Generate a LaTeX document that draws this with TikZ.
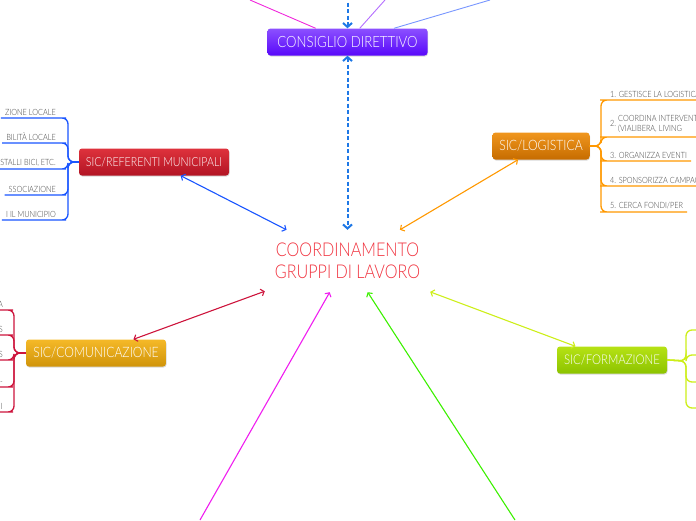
\documentclass[tikz,border=0pt]{standalone}
\usepackage{fontspec}
\setmainfont{Lato Light}[FakeStretch=0.85]
\usetikzlibrary{arrows.meta,shadows}
\definecolor{corered}{RGB}{240,50,62}
\definecolor{consA}{RGB}{140,80,255}
\definecolor{consB}{RGB}{88,8,250}
\definecolor{refA}{RGB}{222,50,60}
\definecolor{refB}{RGB}{178,20,36}
\definecolor{logA}{RGB}{240,150,30}
\definecolor{logB}{RGB}{198,108,0}
\definecolor{comA}{RGB}{245,185,40}
\definecolor{comB}{RGB}{208,148,10}
\definecolor{formA}{RGB}{182,226,20}
\definecolor{formB}{RGB}{140,195,0}
\definecolor{refline}{RGB}{25,85,255}
\definecolor{logline}{RGB}{255,152,0}
\definecolor{comline}{RGB}{205,20,60}
\definecolor{formline}{RGB}{205,238,25}
\definecolor{dotblue}{RGB}{30,120,230}
\definecolor{pinkline}{RGB}{240,30,240}
\definecolor{greenline}{RGB}{60,240,0}
\definecolor{topA}{RGB}{240,40,220}
\definecolor{topB}{RGB}{180,110,255}
\definecolor{topC}{RGB}{120,150,255}

\begin{document}
\begin{tikzpicture}
[x=1pt,y=-1pt,>={Straight Barb[length=3pt,width=7pt]},
 topic/.style={rounded corners=3pt,text=white,font=\fontsize{13}{13}\selectfont,
  minimum height=27pt,drop shadow={opacity=.3,shadow xshift=.5pt,shadow yshift=-1pt}},
 leaf/.style={font=\fontsize{8.6}{9.6}\selectfont,text=black!75,inner xsep=4pt,inner ysep=2.5pt},
 branch/.style={line width=1.3pt,rounded corners=6pt},
 link/.style={line width=1.1pt},
 dotlink/.style={draw=dotblue,line width=2pt,dash pattern=on 4pt off 2.5pt,
  >={Straight Barb[length=4pt,width=9pt]}}]
\useasboundingbox (0,0) rectangle (696,520);

% central idea
\node[text=corered,font=\fontsize{19}{22}\selectfont,align=center,
  minimum width=165pt,minimum height=62pt] (core) at (347.5,261)
  {COORDINAMENTO\\GRUPPI DI LAVORO};

% main topics
\node[topic,font=\fontsize{15.5}{15.5}\selectfont,minimum width=160pt,top color=consA,bottom color=consB] (cons) at (347.5,42) {CONSIGLIO DIRETTIVO};
\node[topic,font=\fontsize{12.5}{12.5}\selectfont,minimum width=150pt,top color=refA,bottom color=refB] (ref) at (154,162) {SIC/REFERENTI MUNICIPALI};
\node[topic,font=\fontsize{14.3}{14.3}\selectfont,minimum width=97pt,top color=logA,bottom color=logB] (log) at (541,146) {SIC/LOGISTICA};
\node[topic,font=\fontsize{14.3}{14.3}\selectfont,minimum width=140pt,top color=comA,bottom color=comB] (com) at (96,353) {SIC/COMUNICAZIONE};
\node[topic,font=\fontsize{13.4}{13.4}\selectfont,minimum width=110pt,top color=formA,bottom color=formB] (form) at (612,360) {SIC/FORMAZIONE};

% links to the centre
\foreach \to/\col in {ref/refline,log/logline,com/comline,form/formline}
  \draw[link,<->,draw=\col] (core) -- (\to);
\coordinate (pinkend) at (200,520);
\coordinate (greenend) at (515,520);
\draw[link,->,draw=pinkline] (pinkend) -- (core);
\draw[link,->,draw=greenline] (greenend) -- (core);
\draw[dotlink,<->] (cons) -- (core);
\coordinate (up0) at (347.5,-4);
\draw[dotlink,->] (up0) -- (cons);

% lines leaving the top
\coordinate (t1) at (250,0);
\coordinate (t2) at (385,0);
\coordinate (t3) at (490,0);
\foreach \to/\col in {t1/topA,t2/topB,t3/topC}
  \draw[\col,line width=.9pt] (cons) -- (\to);

% referenti municipali
\coordinate (refj) at (68,162);
\foreach \n/\y/\txt in {1/118/ZIONE LOCALE,2/143/BILITÀ LOCALE,3/169/{STALLI BICI, ETC.},4/195/SSOCIAZIONE,5/220/I IL MUNICIPIO}{
  \node[leaf,anchor=south east] (r\n) at (60,\y) {\txt};
  \draw[branch,refline] (r\n.south west) -- (r\n.south east) -| (refj) -- (ref.west);
}

% logistica
\coordinate (logj) at (601,146);
\foreach \n/\y/\txt in {1/100/{1. GESTISCE LA LOGISTICA},
  2/137/{2.~\begin{tabular}[c]{@{}l@{}}COORDINA INTERVENTI\\(VIALIBERA, LIVING\end{tabular}},
  3/161/{3. ORGANIZZA EVENTI},4/186/{4. SPONSORIZZA CAMPAGNE},5/212/{5. CERCA FONDI/PER}}{
  \node[leaf,anchor=south west] (g\n) at (606,\y) {\txt};
  \draw[branch,logline] (g\n.south east) -- (g\n.south west) -| (logj) -- (log.east);
}

% comunicazione
\coordinate (comj) at (14,353);
\foreach \n/\y/\txt in {1/310/A,2/335/S,3/360/S,4/387/-,5/412/I}{
  \node[leaf,anchor=south east] (c\n) at (7,\y) {\txt};
  \draw[branch,comline] (c\n.south west) -- (c\n.south east) -| (comj) -- (com.west);
}

% formazione
\coordinate (formj) at (686,361);
\foreach \n/\y in {1/330,2/355,3/382,4/408}{
  \coordinate (f\n) at (702,\y);
  \draw[branch,formline] (f\n) -| (formj) -- (form.east);
}
\end{tikzpicture}
\end{document}
